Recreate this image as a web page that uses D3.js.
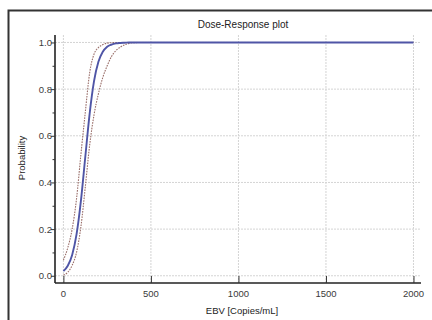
<!DOCTYPE html>
<html>
<head>
<meta charset="utf-8">
<script src="https://cdn.jsdelivr.net/npm/d3@7"></script>
<style>
  html, body { margin: 0; padding: 0; background: #fff; }
  svg { display: block; font-family: "Liberation Sans", Arial, sans-serif; }
</style>
</head>
<body>
<svg id="chart" width="432" height="320"></svg>
<script>
// 剂量-反应曲线数据
const doseX = [0, 25, 50, 75, 100, 125, 150, 175, 200, 225, 250, 275, 300, 325, 350, 375, 400, 450, 500, 1000, 1500, 2000];
const probFit = [0.020, 0.043, 0.089, 0.177, 0.321, 0.509, 0.695, 0.834, 0.917, 0.960, 0.982, 0.991, 0.996, 0.998, 0.999, 1.0, 1.0, 1.0, 1.0, 1.0, 1.0, 1.0];
const probUpper = [0.067, 0.12, 0.20, 0.33, 0.52, 0.70, 0.87, 0.95, 0.978, 0.991, 0.997, 0.999, 1.0, 1.0, 1.0, 1.0, 1.0, 1.0, 1.0, 1.0, 1.0, 1.0];
const probLower = [0.003, 0.015, 0.045, 0.10, 0.21, 0.38, 0.56, 0.69, 0.78, 0.85, 0.90, 0.94, 0.965, 0.98, 0.99, 0.996, 0.999, 1.0, 1.0, 1.0, 1.0, 1.0];

const xTicks = [0, 500, 1000, 1500, 2000];
const yTicks = [0, 0.2, 0.4, 0.6, 0.8, 1.0];
const yMinorTicks = [0.1, 0.3, 0.5, 0.7, 0.9];

const svg = d3.select("#chart");

// 外框
svg.append("rect")
  .attr("x", 8.5).attr("y", 10.5)
  .attr("width", 440).attr("height", 330)
  .attr("fill", "none")
  .attr("stroke", "#333")
  .attr("stroke-width", 2);

const plot = { left: 55, right: 421, top: 35, bottom: 283 };

const x = d3.scaleLinear().domain([-48, 2043]).range([plot.left, plot.right]);
const y = d3.scaleLinear().domain([-0.031, 1.032]).range([plot.bottom, plot.top]);

// 网格线
const grid = svg.append("g").attr("class", "grid");
grid.selectAll("line.v")
  .data(xTicks)
  .enter().append("line")
  .attr("x1", d => x(d)).attr("x2", d => x(d))
  .attr("y1", plot.top).attr("y2", plot.bottom)
  .attr("stroke", "#d4d4d4")
  .attr("stroke-width", 1)
  .attr("stroke-dasharray", "2,1");
grid.selectAll("line.h")
  .data(yTicks)
  .enter().append("line")
  .attr("x1", plot.left).attr("x2", plot.right)
  .attr("y1", d => y(d)).attr("y2", d => y(d))
  .attr("stroke", "#d4d4d4")
  .attr("stroke-width", 1)
  .attr("stroke-dasharray", "2,1");

// 坐标轴
const xAxis = svg.append("g")
  .attr("transform", `translate(0,${plot.bottom})`)
  .call(d3.axisTop(x).tickValues(xTicks).tickSize(7).tickFormat(""));
xAxis.select(".domain").attr("d", `M${plot.left},0H${plot.right}`).attr("stroke", "#222").attr("stroke-width", 1.6);
xAxis.selectAll(".tick line").attr("stroke", "#333");

svg.append("g")
  .selectAll("text")
  .data(xTicks)
  .enter().append("text")
  .attr("x", d => x(d))
  .attr("y", 297)
  .attr("text-anchor", "middle")
  .attr("font-size", 9.5)
  .attr("fill", "#3a3a3a")
  .text(d => d);

const yAxis = svg.append("g")
  .attr("transform", `translate(${plot.left},0)`)
  .call(d3.axisLeft(y).tickValues(yTicks).tickSize(4).tickFormat(d3.format(".1f")));
yAxis.select(".domain").attr("d", `M0,${plot.top}V${plot.bottom}`).attr("stroke", "#222").attr("stroke-width", 1.6);
yAxis.selectAll(".tick line").attr("stroke", "#333");
yAxis.selectAll(".tick text")
  .attr("x", -3)
  .attr("font-size", 9.5)
  .attr("font-family", "Liberation Sans, Arial, sans-serif")
  .attr("fill", "#3a3a3a");

svg.append("g")
  .attr("transform", `translate(${plot.left},0)`)
  .call(d3.axisLeft(y).tickValues(yMinorTicks).tickSize(2.5).tickFormat(""))
  .call(g => g.select(".domain").remove())
  .selectAll(".tick line").attr("stroke", "#333");

// 曲线
const line = (vals) => d3.line()
  .x((d, i) => x(doseX[i]))
  .y(d => y(d))
  .curve(d3.curveMonotoneX)(vals);

[probUpper, probLower].forEach(vals => {
  svg.append("path")
    .attr("d", line(vals))
    .attr("fill", "none")
    .attr("stroke", "#9a6f6a")
    .attr("stroke-width", 1.1)
    .attr("stroke-dasharray", "1.6,1.1");
});

svg.append("path")
  .attr("d", line(probFit))
  .attr("fill", "none")
  .attr("stroke", "#4f55a6")
  .attr("stroke-width", 1.9);

// 标题与轴标签
svg.append("text")
  .attr("x", 243).attr("y", 28)
  .attr("text-anchor", "middle")
  .attr("font-size", 10)
  .attr("fill", "#222")
  .text("Dose-Response plot");

svg.append("text")
  .attr("x", 242).attr("y", 314)
  .attr("text-anchor", "middle")
  .attr("font-size", 9.5)
  .attr("fill", "#222")
  .text("EBV [Copies/mL]");

svg.append("text")
  .attr("transform", "translate(25,158) rotate(-90)")
  .attr("text-anchor", "middle")
  .attr("font-size", 9.5)
  .attr("fill", "#222")
  .text("Probability");
</script>
</body>
</html>
